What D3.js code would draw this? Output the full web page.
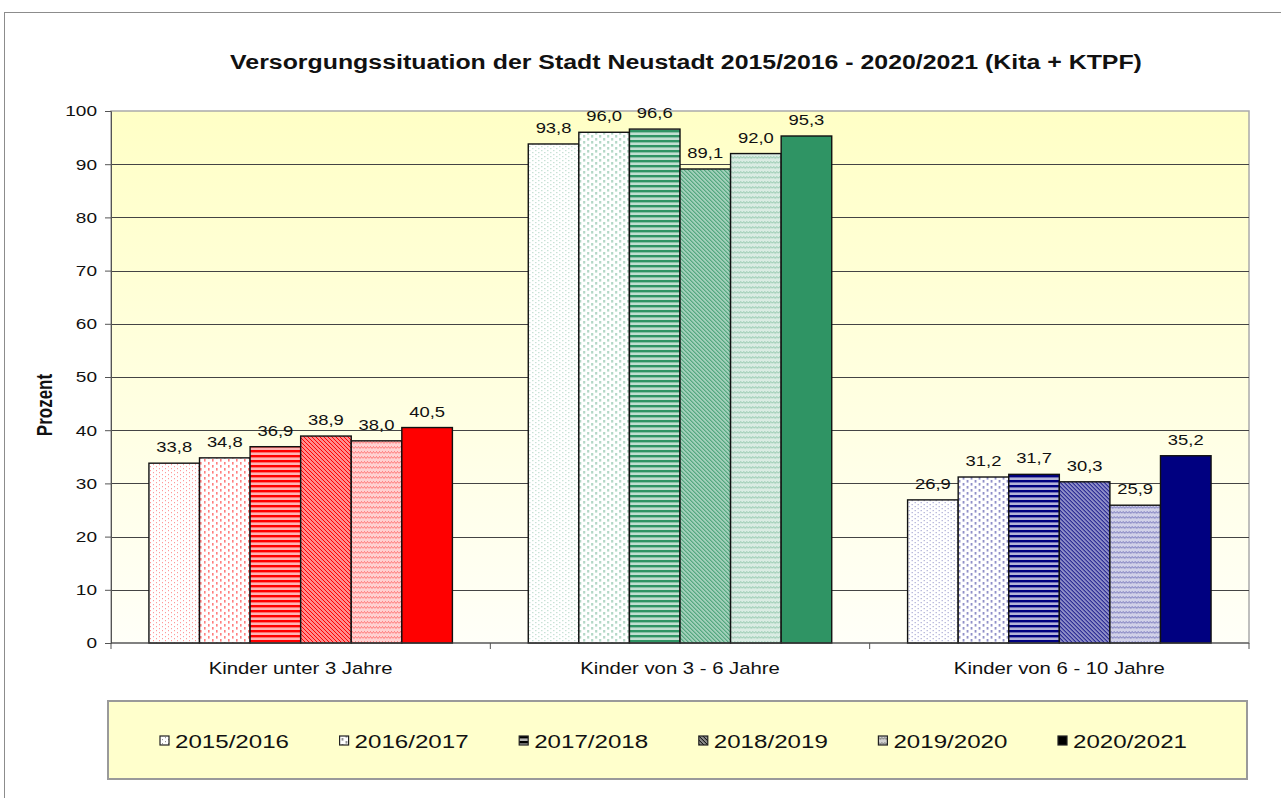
<!DOCTYPE html>
<html lang="de">
<head>
    <meta charset="UTF-8">
    <title>Versorgungssituation</title>
    <script src="https://cdn.jsdelivr.net/npm/d3@7"></script>
    <style>
        body { margin: 0; background: #fff; }
        text { font-family: Arial, "Liberation Sans", sans-serif; fill: #111; }
    </style>
</head>
<body>
<script>
    const width = 1281;
    const height = 798;
    const SX = 1.27; // the reference is stretched horizontally

    const categories = ["Kinder unter 3 Jahre", "Kinder von 3 - 6 Jahre", "Kinder von 6 - 10 Jahre"];
    const years = ["2015/2016", "2016/2017", "2017/2018", "2018/2019", "2019/2020", "2020/2021"];
    const under3 = [33.8, 34.8, 36.9, 38.9, 38.0, 40.5];
    const from3to6 = [93.8, 96.0, 96.6, 89.1, 92.0, 95.3];
    const from6to10 = [26.9, 31.2, 31.7, 30.3, 25.9, 35.2];
    const groupColors = ["#ff0000", "#2f9464", "#000080"];
    const yTicks = [0, 10, 20, 30, 40, 50, 60, 70, 80, 90, 100];

    const series = [under3, from3to6, from6to10];

    const plot = {left: 111, right: 1249, top: 111, bottom: 643};

    const svg = d3.select("body").append("svg")
            .attr("width", width).attr("height", height);
    const defs = svg.append("defs");

    // plot area gradient
    const grad = defs.append("linearGradient").attr("id", "bg")
            .attr("x1", 0).attr("y1", 0).attr("x2", 0).attr("y2", 1);
    grad.append("stop").attr("offset", "0%").attr("stop-color", "#ffffc6");
    grad.append("stop").attr("offset", "100%").attr("stop-color", "#fffff8");

    const tint = (c, t) => d3.interpolateRgb("#ffffff", c)(t);

    // excel like fill patterns, one per year
    function makePattern(id, style, c) {
        if (style === 5) return;
        const p = defs.append("pattern").attr("id", id)
                .attr("patternUnits", "userSpaceOnUse");
        if (style === 0) {
            p.attr("width", 6).attr("height", 4);
            p.append("rect").attr("width", 6).attr("height", 4).attr("fill", "#fff");
            p.append("rect").attr("x", 0).attr("y", 0).attr("width", 1).attr("height", 1.2).attr("fill", c).attr("opacity", .4);
            p.append("rect").attr("x", 3).attr("y", 2).attr("width", 1).attr("height", 1.2).attr("fill", c).attr("opacity", .4);
        } else if (style === 1) {
            p.attr("width", 8).attr("height", 6);
            p.append("rect").attr("width", 8).attr("height", 6).attr("fill", "#fff");
            p.append("rect").attr("x", 1).attr("y", 0).attr("width", 1.6).attr("height", 2.6).attr("fill", c).attr("opacity", .5);
            p.append("rect").attr("x", 5).attr("y", 3).attr("width", 1.6).attr("height", 2.6).attr("fill", c).attr("opacity", .5);
        } else if (style === 2) {
            p.attr("width", 5).attr("height", 5);
            p.append("rect").attr("width", 5).attr("height", 5).attr("fill", tint(c, .3));
            p.append("rect").attr("width", 5).attr("height", 2.4).attr("fill", c);
        } else if (style === 3) {
            p.attr("width", 4).attr("height", 4);
            p.append("rect").attr("width", 4).attr("height", 4).attr("fill", tint(c, .45));
            p.append("path").attr("d", "M-1,-1L5,5M-1,3L1,5M3,-1L5,1")
                    .attr("stroke", c).attr("stroke-width", 1);
        } else if (style === 4) {
            p.attr("width", 6).attr("height", 5);
            p.append("rect").attr("width", 6).attr("height", 5).attr("fill", tint(c, .18));
            p.append("path").attr("d", "M0,3.5L1.5,1.5L3,3.5L4.5,1.5L6,3.5")
                    .attr("fill", "none").attr("stroke", c).attr("stroke-opacity", .5).attr("stroke-width", .8);
        }
    }
    const fillFor = (id, style, c) => style === 5 ? c : `url(#${id})`;

    groupColors.forEach((c, gi) => years.forEach((y, si) => makePattern(`p${gi}_${si}`, si, c)));
    years.forEach((y, si) => makePattern(`leg_${si}`, si, "#000"));

    // outer frame
    svg.append("rect").attr("x", 4.5).attr("y", 12.5).attr("width", 1300).attr("height", 800)
            .attr("fill", "none").attr("stroke", "#8c8c8c").attr("stroke-width", 1);

    // title
    svg.append("text")
            .attr("transform", `translate(686,69) scale(${SX},1)`)
            .attr("text-anchor", "middle")
            .attr("font-size", 19.6).attr("font-weight", "bold")
            .text("Versorgungssituation der Stadt Neustadt 2015/2016 - 2020/2021 (Kita + KTPF)");

    const y = d3.scaleLinear().domain([0, 100]).range([plot.bottom, plot.top]);
    const x0 = d3.scaleBand().domain(categories).range([plot.left, plot.right]);
    const x1 = d3.scaleBand().domain(years).range([0, x0.bandwidth()])
            .paddingInner(0).paddingOuter(0.75);

    svg.append("rect").attr("x", plot.left).attr("y", plot.top)
            .attr("width", plot.right - plot.left).attr("height", plot.bottom - plot.top)
            .attr("fill", "url(#bg)").attr("stroke", "#aaa").attr("stroke-width", 1.5);

    // gridlines
    svg.append("g").selectAll("line").data(yTicks.filter(d => d > 0 && d < 100)).join("line")
            .attr("x1", plot.left).attr("x2", plot.right)
            .attr("y1", d => Math.round(y(d)) + .5).attr("y2", d => Math.round(y(d)) + .5)
            .attr("stroke", "#444").attr("stroke-width", 1);

    // y axis
    const yAxis = svg.append("g").attr("transform", `translate(${plot.left},0)`)
            .call(d3.axisLeft(y).tickValues(yTicks).tickSize(6).tickPadding(8));
    yAxis.select(".domain").attr("stroke", "#555");
    yAxis.selectAll(".tick line").attr("stroke", "#555");
    yAxis.selectAll(".tick text")
            .attr("font-size", 15).attr("font-family", "Arial, 'Liberation Sans', sans-serif")
            .attr("fill", "#222")
            .attr("x", -14 / SX)
            .attr("transform", `scale(${SX},1)`);

    svg.append("text")
            .attr("transform", `translate(52,405) scale(${SX},1) rotate(-90)`)
            .attr("text-anchor", "middle")
            .attr("font-size", 17).attr("font-weight", "bold")
            .text("Prozent");

    // bars
    const groups = svg.append("g").selectAll("g").data(categories).join("g")
            .attr("transform", d => `translate(${x0(d)},0)`);

    groups.each(function(cat, gi) {
        const g = d3.select(this);
        const rows = years.map((yr, si) => ({yr, si, v: series[gi][si]}));
        g.selectAll("rect").data(rows).join("rect")
                .attr("x", d => x1(d.yr))
                .attr("y", d => y(d.v))
                .attr("width", x1.bandwidth())
                .attr("height", d => y(0) - y(d.v))
                .attr("fill", d => fillFor(`p${gi}_${d.si}`, d.si, groupColors[gi]))
                .attr("stroke", "#111").attr("stroke-width", 1.4);
        g.selectAll("text").data(rows).join("text")
                .attr("transform", d => `translate(${x1(d.yr) + x1.bandwidth() / 2},${y(d.v) - 11}) scale(${SX},1)`)
                .attr("text-anchor", "middle")
                .attr("font-size", 14.5).attr("fill", "#333")
                .text(d => d3.format(".1f")(d.v).replace(".", ","));
    });

    // x axis
    const xAxis = svg.append("g").attr("transform", `translate(0,${plot.bottom})`);
    xAxis.append("line").attr("x1", plot.left).attr("x2", plot.right)
            .attr("stroke", "#444").attr("stroke-width", 1.2);
    const bounds = [plot.left].concat(categories.map(c => x0(c) + x0.bandwidth()));
    xAxis.selectAll("line.tick").data(bounds).join("line").attr("class", "tick")
            .attr("x1", d => d).attr("x2", d => d).attr("y1", 0).attr("y2", 6)
            .attr("stroke", "#555");
    xAxis.selectAll("text").data(categories).join("text")
            .attr("transform", d => `translate(${x0(d) + x0.bandwidth() / 2},31) scale(${SX},1)`)
            .attr("text-anchor", "middle")
            .attr("font-size", 16).attr("fill", "#222")
            .text(d => d);

    // legend
    const legend = svg.append("g");
    legend.append("rect").attr("x", 108).attr("y", 701).attr("width", 1139).attr("height", 78)
            .attr("fill", "#ffffcc").attr("stroke", "#9a9a9a").attr("stroke-width", 2);
    const legX = d3.scalePoint().domain(years).range([165, 1063]);
    const items = legend.selectAll("g.item").data(years).join("g").attr("class", "item")
            .attr("transform", d => `translate(${legX(d)},741)`);
    items.append("rect").attr("x", -5).attr("y", -5).attr("width", 9).attr("height", 9)
            .attr("fill", (d, i) => fillFor(`leg_${i}`, i, "#000"))
            .attr("stroke", "#222").attr("stroke-width", 1.2);
    items.append("text")
            .attr("transform", `translate(10,7) scale(${SX},1)`)
            .attr("font-size", 19).attr("fill", "#222")
            .text(d => d);
</script>

</body>
</html>
